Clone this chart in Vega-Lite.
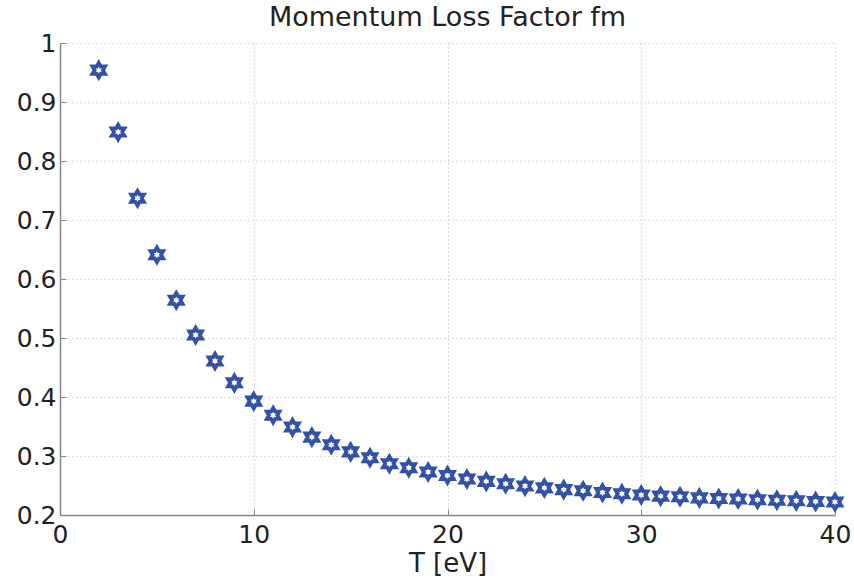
{
  "$schema": "https://vega.github.io/schema/vega-lite/v6.json",
  "width": 775,
  "height": 472,
  "autosize": "none",
  "padding": {"left": 60, "top": 43, "right": 19, "bottom": 69},
  "background": "white",
  "title": {"text": "Momentum Loss Factor fm", "fontSize": 27, "fontWeight": "normal", "font": "DejaVu Sans", "color": "#222222", "offset": -1},
  "config": {"view": {"stroke": null}},
  "data": {"values": [
    {"T": 2, "fm": 0.954}, {"T": 3, "fm": 0.849}, {"T": 4, "fm": 0.737}, {"T": 5, "fm": 0.641},
    {"T": 6, "fm": 0.564}, {"T": 7, "fm": 0.505}, {"T": 8, "fm": 0.461}, {"T": 9, "fm": 0.424},
    {"T": 10, "fm": 0.393}, {"T": 11, "fm": 0.369}, {"T": 12, "fm": 0.349}, {"T": 13, "fm": 0.332},
    {"T": 14, "fm": 0.319}, {"T": 15, "fm": 0.307}, {"T": 16, "fm": 0.297}, {"T": 17, "fm": 0.287},
    {"T": 18, "fm": 0.280}, {"T": 19, "fm": 0.273}, {"T": 20, "fm": 0.267}, {"T": 21, "fm": 0.261},
    {"T": 22, "fm": 0.257}, {"T": 23, "fm": 0.253}, {"T": 24, "fm": 0.249}, {"T": 25, "fm": 0.246},
    {"T": 26, "fm": 0.243}, {"T": 27, "fm": 0.241}, {"T": 28, "fm": 0.238}, {"T": 29, "fm": 0.236},
    {"T": 30, "fm": 0.234}, {"T": 31, "fm": 0.232}, {"T": 32, "fm": 0.231}, {"T": 33, "fm": 0.229},
    {"T": 34, "fm": 0.228}, {"T": 35, "fm": 0.227}, {"T": 36, "fm": 0.226}, {"T": 37, "fm": 0.225},
    {"T": 38, "fm": 0.224}, {"T": 39, "fm": 0.223}, {"T": 40, "fm": 0.222}
  ]},
  "mark": {
    "type": "point",
    "shape": "M0,-1L0.289,-0.5L0.866,-0.5L0.577,0L0.866,0.5L0.289,0.5L0,1L-0.289,0.5L-0.866,0.5L-0.577,0L-0.866,-0.5L-0.289,-0.5Z",
    "filled": false,
    "size": 210,
    "strokeWidth": 3.8,
    "color": "#3451a8",
    "opacity": 1,
    "clip": false
  },
  "encoding": {
    "x": {
      "field": "T", "type": "quantitative",
      "scale": {"domain": [0, 40], "nice": false, "zero": false},
      "axis": {
        "title": "T [eV]", "titleFontSize": 26, "titleFont": "DejaVu Sans", "titleFontWeight": "normal", "titleColor": "#222222", "titlePadding": 3,
        "values": [0, 10, 20, 30, 40], "labelFontSize": 25, "labelFont": "DejaVu Sans", "labelColor": "#222222", "labelPadding": 13,
        "grid": true, "gridDash": [1, 3], "gridColor": "#bbbbbb", "gridWidth": 1,
        "domainColor": "#888888", "domainWidth": 1.5, "tickColor": "#888888", "tickSize": -6, "labelFlush": false
      }
    },
    "y": {
      "field": "fm", "type": "quantitative",
      "scale": {"domain": [0.2, 1], "nice": false, "zero": false},
      "axis": {
        "title": null, "format": "~g",
        "values": [0.2, 0.3, 0.4, 0.5, 0.6, 0.7, 0.8, 0.9, 1], "labelFontSize": 25, "labelFont": "DejaVu Sans", "labelColor": "#222222", "labelPadding": 10,
        "grid": true, "gridDash": [1, 3], "gridColor": "#bbbbbb", "gridWidth": 1,
        "domainColor": "#888888", "domainWidth": 1.5, "tickColor": "#888888", "tickSize": -6, "labelFlush": false
      }
    }
  }
}
